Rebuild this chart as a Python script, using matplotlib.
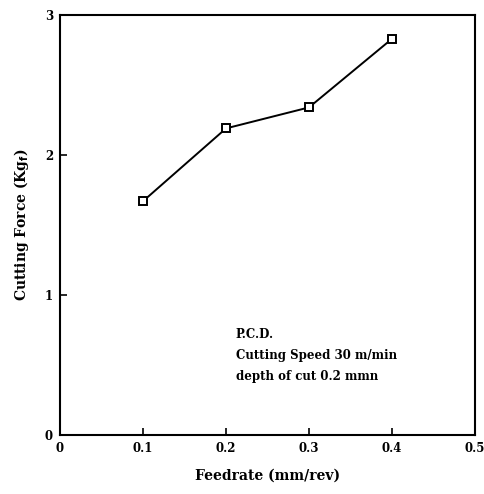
import matplotlib
matplotlib.use("Agg")
import matplotlib.pyplot as plt

# Feedrate vs cutting force, P.C.D. tool
feedrate = [0.1, 0.2, 0.3, 0.4]
cutting_force = [1.67, 2.19, 2.34, 2.83]

x_ticks = [0, 0.1, 0.2, 0.3, 0.4, 0.5]
x_tick_labels = ["0", "0.1", "0.2", "0.3", "0.4", "0.5"]
y_ticks = [0, 1, 2, 3]
note_lines = ["P.C.D.", "Cutting Speed 30 m/min", "depth of cut 0.2 mmn"]

plt.rcParams['font.family'] = ['DejaVu Serif']
plt.rcParams['font.weight'] = 'bold'

fig = plt.figure(figsize=(4.85, 4.94), dpi=100)
ax = fig.add_axes([60 / 485, 59 / 494, 415 / 485, 420 / 494])

ax.plot(feedrate, cutting_force, color='black', lw=1.4,
        marker='s', markersize=5.5, markerfacecolor='white',
        markeredgecolor='black', markeredgewidth=1.4)

ax.set_xlim(0, 0.5)
ax.set_ylim(0, 3)
ax.set_xticks(x_ticks)
ax.set_xticklabels(x_tick_labels)
ax.set_yticks(y_ticks)
ax.tick_params(direction='in', length=5, width=1.2, labelsize=8.5, pad=5)
for s in ax.spines.values():
    s.set_linewidth(1.5)

ax.set_xlabel("Feedrate (mm/rev)", fontsize=10, fontweight='bold', labelpad=10)
ax.set_ylabel("Cutting Force (Kg$_\\mathbf{f}$)", fontsize=10, fontweight='bold', labelpad=10)

for i, line in enumerate(note_lines):
    ax.text(0.212, 0.72 - i * 0.15, line, fontsize=8.5, fontweight='bold', va='center')

fig.savefig("out.png", dpi=100)
